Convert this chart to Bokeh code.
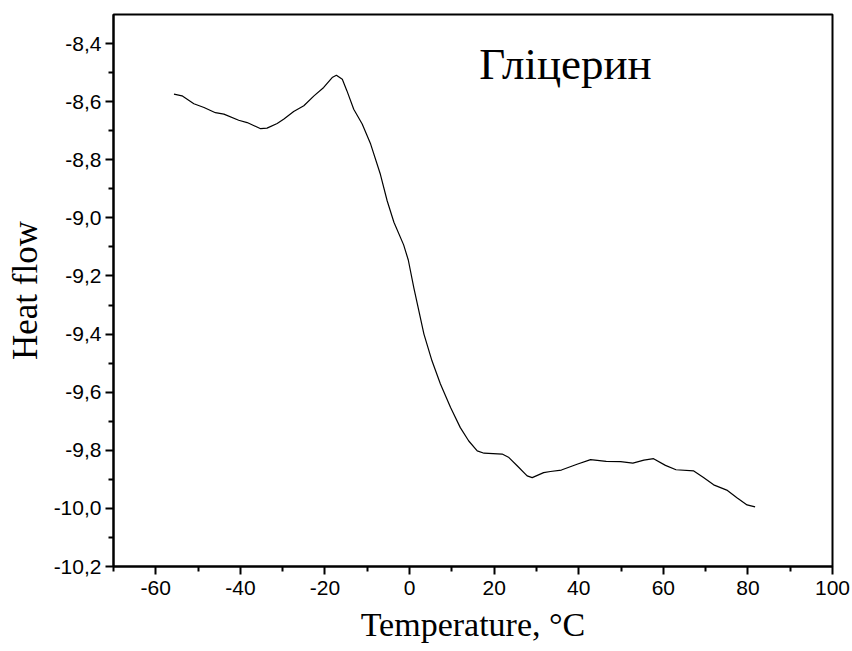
from bokeh.plotting import figure
from bokeh.models import FixedTicker, CustomJSTickFormatter, Label, Range1d
from bokeh.embed import file_html
from bokeh.resources import INLINE

# Data
temperature = [-55.7, -53.8, -51.0, -48.6, -45.9, -43.9, -40.4, -38.4, -35.2, -33.7,
               -31.3, -29.7, -27.4, -25.0, -22.6, -20.3, -18.3, -17.3, -15.9, -14.8,
               -13.2, -11.2, -9.2, -6.9, -5.3, -3.7, -1.4, -0.3, 1.0, 2.2,
               3.4, 5.3, 7.3, 9.7, 12.0, 14.0, 16.0, 17.6, 21.9, 23.5,
               25.5, 27.8, 29.0, 31.7, 33.3, 35.9, 39.6, 42.8, 46.5, 49.9,
               52.8, 55.4, 57.7, 60.5, 63.0, 67.2, 69.5, 71.9, 75.0, 77.4,
               79.8, 81.7]
heat_flow = [-8.574, -8.580, -8.607, -8.620, -8.638, -8.643, -8.664, -8.672, -8.693, -8.691,
             -8.675, -8.660, -8.634, -8.614, -8.580, -8.551, -8.517, -8.509, -8.523, -8.563,
             -8.626, -8.677, -8.746, -8.850, -8.941, -9.015, -9.093, -9.145, -9.240, -9.320,
             -9.400, -9.492, -9.572, -9.653, -9.722, -9.768, -9.802, -9.810, -9.813, -9.825,
             -9.854, -9.888, -9.894, -9.877, -9.873, -9.868, -9.848, -9.832, -9.838, -9.839,
             -9.844, -9.834, -9.829, -9.852, -9.867, -9.871, -9.894, -9.919, -9.937, -9.963,
             -9.988, -9.995]

x_major = [-60, -40, -20, 0, 20, 40, 60, 80, 100]
x_minor = [-70, -50, -30, -10, 10, 30, 50, 70, 90]
y_major = [-10.2, -10.0, -9.8, -9.6, -9.4, -9.2, -9.0, -8.8, -8.6, -8.4]
y_minor = [-10.1, -9.9, -9.7, -9.5, -9.3, -9.1, -8.9, -8.7, -8.5]

title_text = "Гліцерин"
x_label = "Temperature, °C"
y_label = "Heat flow"

p = figure(width=852, height=651, output_backend="svg", toolbar_location=None,
           x_range=Range1d(-70, 100), y_range=Range1d(-10.2, -8.3),
           min_border_left=113, min_border_right=20, min_border_top=14, min_border_bottom=85)

p.background_fill_color = "white"
p.border_fill_color = "white"
p.outline_line_color = "black"
p.outline_line_width = 2
p.grid.visible = False

p.line(temperature, heat_flow, line_color="black", line_width=1.2)

for ax in (p.xaxis[0], p.yaxis[0]):
    ax.axis_line_width = 2
    ax.axis_line_color = "black"
    ax.major_tick_line_width = 2
    ax.minor_tick_line_width = 2
    ax.major_tick_out = 8
    ax.major_tick_in = 0
    ax.minor_tick_out = 5
    ax.minor_tick_in = 0
    ax.major_label_text_font = "Liberation Sans"
    ax.major_label_text_font_size = "21px"
    ax.major_label_text_color = "black"
    ax.axis_label_text_font = "Liberation Serif"
    ax.axis_label_text_font_style = "normal"
    ax.axis_label_text_color = "black"

p.xaxis[0].ticker = FixedTicker(ticks=x_major, minor_ticks=x_minor)
p.yaxis[0].ticker = FixedTicker(ticks=y_major, minor_ticks=y_minor)
p.yaxis[0].formatter = CustomJSTickFormatter(code="return tick.toFixed(1).replace('.', ',');")
p.xaxis[0].formatter = CustomJSTickFormatter(code="return tick.toFixed(0);")
p.xaxis[0].axis_label = x_label
p.yaxis[0].axis_label = y_label
p.xaxis[0].axis_label_text_font_size = "34px"
p.yaxis[0].axis_label_text_font_size = "35px"
p.xaxis[0].major_label_standoff = 6
p.yaxis[0].major_label_standoff = 4
p.xaxis[0].axis_label_standoff = 8
p.yaxis[0].axis_label_standoff = 6

p.add_layout(Label(x=16.5, y=-8.47, text=title_text, text_font="Liberation Serif",
                   text_font_size="45px", text_color="black", text_baseline="alphabetic"))

open("out.html", "w").write(file_html(p, INLINE))
